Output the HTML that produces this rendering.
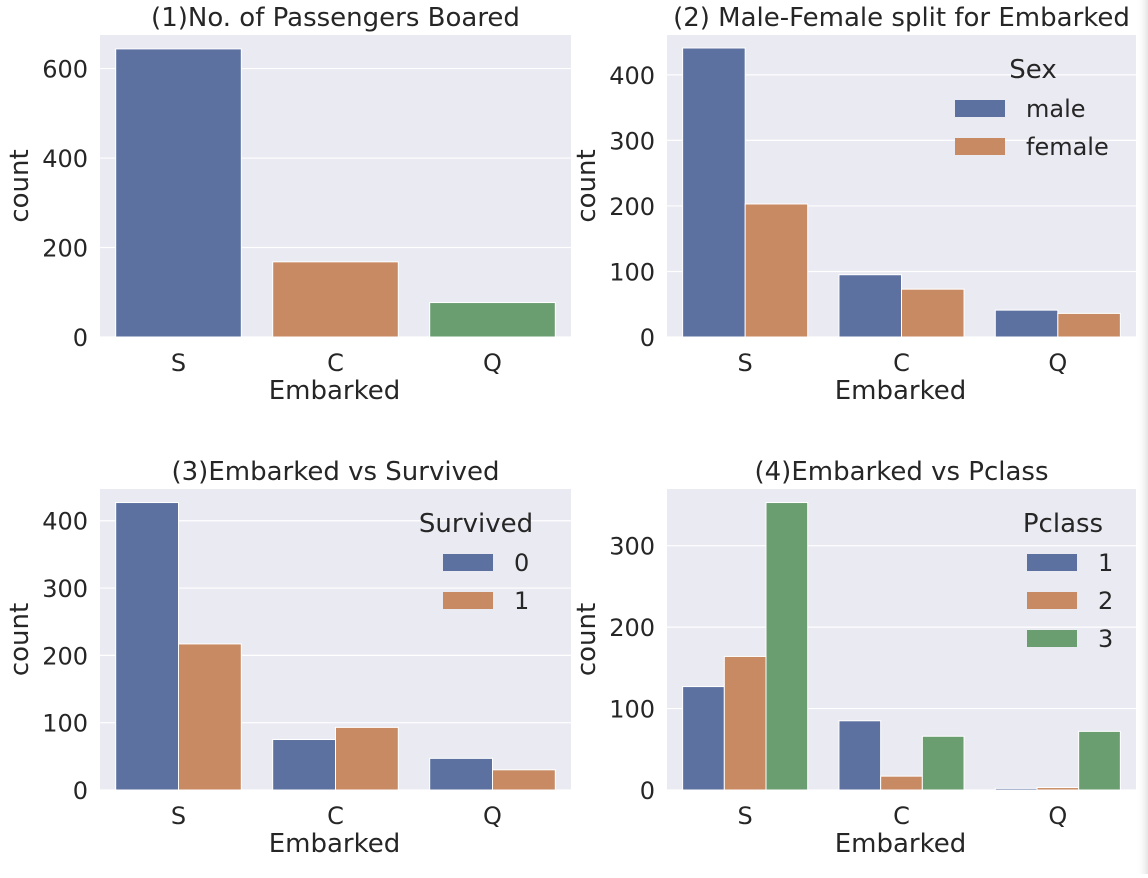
<!DOCTYPE html>
<html><head><meta charset="utf-8">
<style>
body{margin:0;background:#fff;width:1148px;height:874px;overflow:hidden;font-family:"DejaVu Sans","Liberation Sans",sans-serif;}
svg text{fill:#262626;font-family:"DejaVu Sans","Liberation Sans",sans-serif;}
</style></head><body>
<svg id="fig" width="1148" height="874" xmlns="http://www.w3.org/2000/svg">
<defs><linearGradient id="sh" x1="0" x2="1"><stop offset="0" stop-color="#fff" stop-opacity="0"/><stop offset="1" stop-color="#e4e4e4"/></linearGradient></defs>
<rect x="1136" y="0" width="12" height="874" fill="url(#sh)"/>
</svg>
<script>
const categories = ["S","C","Q"];
const p1Values = [644,168,77];
const p2Male = [441,95,41];
const p2Female = [203,73,36];
const p3Died = [427,75,47];
const p3Surv = [217,93,30];
const p4Class1 = [127,85,2];
const p4Class2 = [164,17,3];
const p4Class3 = [353,66,72];
const p1Ticks = [0,200,400,600];
const p2Ticks = [0,100,200,300,400];
const p3Ticks = [0,100,200,300,400];
const p4Ticks = [0,100,200,300];
const colors = ["#5c71a0","#c88a63","#6a9d70"];
const NS="http://www.w3.org/2000/svg";
const svg=document.getElementById('fig');
function mk(tag,attrs,parent){const e=document.createElementNS(NS,tag);for(const k in attrs)e.setAttribute(k,attrs[k]);(parent||svg).appendChild(e);return e;}
function panel(id,x0,y0,w,h,ymax,ticks,series,title,legTitle,legLabels,colorOffset,swOff,ltOff){
  const g=mk('g',{});
  
  
  const bg=mk('rect',{x:x0,y:y0,width:w,height:h,fill:'#eaeaf2'},g);
  
  
  const ys=v=>y0+h-v/ymax*h;
  const cw=w/categories.length;
  const xs=i=>x0+cw*(i+0.5);
  ticks.forEach(t=>{
    const l=mk('line',{x1:x0,x2:x0+w,y1:ys(t),y2:ys(t),stroke:'#fff','stroke-width':1.2},g);
    
    
    const tx=mk('text',{x:x0-12,y:ys(t)+9,'text-anchor':'end','font-size':24},g);
    tx.textContent=t;
    
    
  });
  const n=series.length, bw=cw*0.8/n;
  series.forEach((s,si)=>{
    s.forEach((v,i)=>{
      const bx=xs(i)-cw*0.4+si*bw;
      const r=mk('rect',{x:bx,y:ys(v),width:bw,height:ys(0)-ys(v),fill:colors[si+colorOffset(i)],stroke:'#fff','stroke-width':1},g);
      
      
    });
  });
  categories.forEach((c,i)=>{
    const tx=mk('text',{x:xs(i),y:y0+h+34,'text-anchor':'middle','font-size':24},g);
    tx.textContent=c;
    
    
  });
  const xl=mk('text',{x:x0+w/2-1,y:y0+h+62,'text-anchor':'middle','font-size':26},g);
  xl.textContent='Embarked';
  
  
  const yl=mk('text',{x:0,y:0,'text-anchor':'middle','font-size':26,transform:`translate(${x0-72},${y0+h/2}) rotate(-90)`},g);
  yl.textContent='count';
  
  
  const tt=mk('text',{x:x0+w/2,y:y0-9,'text-anchor':'middle','font-size':26},g);
  tt.textContent=title;
  
  
  if(legTitle){
    const lt=mk('text',{x:x0+w-ltOff,y:y0+43,'text-anchor':'middle','font-size':26},g);
    lt.textContent=legTitle;
    
    
    legLabels.forEach((lab,k)=>{
      const yy=y0+73+k*38;
      const sw=mk('rect',{x:x0+w-swOff,y:yy-8,width:50,height:17,fill:colors[k]},g);
      
      
      const te=mk('text',{x:x0+w-swOff+71,y:yy+9,'font-size':24},g);
      te.textContent=lab;
      
      
    });
  }
}
panel('panel-passengers-boarded',100,35,471,302,644/0.954,p1Ticks,[p1Values],'(1)No. of Passengers Boared',null,null,i=>i);
panel('panel-male-female',667,35,469,302,441/0.957,p2Ticks,[p2Male,p2Female],'(2) Male-Female split for Embarked','Sex',['male','female'],i=>0,181,103);
panel('panel-survived',100,489,471,301,427/0.955,p3Ticks,[p3Died,p3Surv],'(3)Embarked vs Survived','Survived',['0','1'],i=>0,128,95);
panel('panel-pclass',667,489,469,301,353/0.955,p4Ticks,[p4Class1,p4Class2,p4Class3],'(4)Embarked vs Pclass','Pclass',['1','2','3'],i=>0,109,73);
</script>
</body></html>
